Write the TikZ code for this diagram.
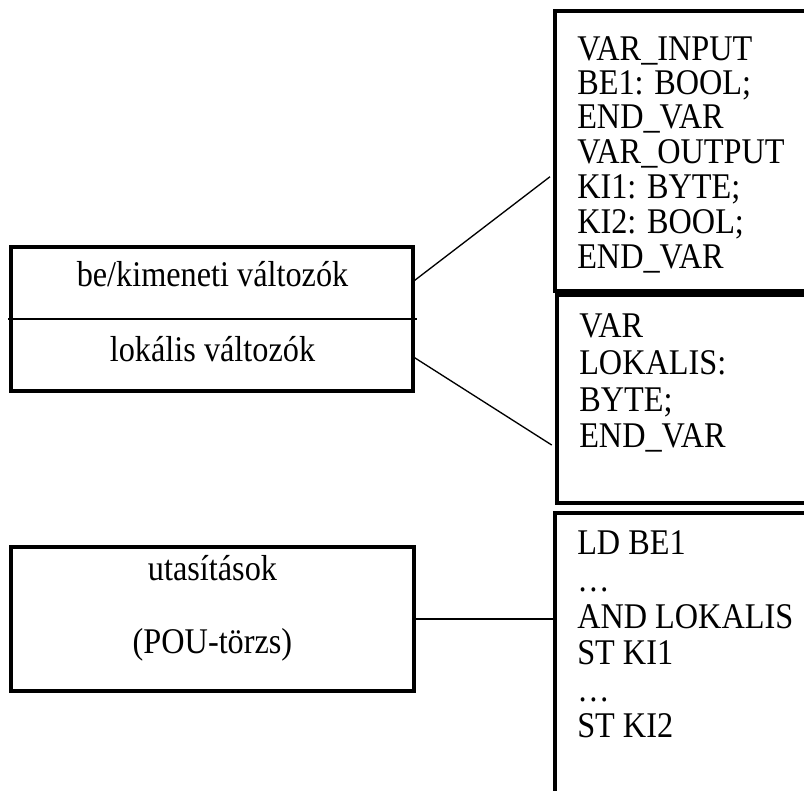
\documentclass[tikz,border=0pt]{standalone}
\usepackage{fontspec}
\setmainfont{Liberation Serif}
\usetikzlibrary{fit,calc}
\newcommand\ys[1]{\scalebox{1}[1.12]{#1}}
\tikzset{
  frame/.style={draw, line width=3pt, inner sep=0pt, outer sep=0pt},
  codeline/.style={anchor=base west, inner sep=0pt, font=\fontsize{24.2}{24}\selectfont},
  celltext/.style={anchor=base, inner sep=0pt, font=\fontsize{24.2}{24}\selectfont},
  link/.style={line width=1pt},
  divider/.style={line width=1pt}
}
\begin{document}
\begin{tikzpicture}[x=0.75pt, y=-0.75pt]
\useasboundingbox (0,0) rectangle (804,790);
\clip (0,0) rectangle (804,790);

% left boxes
\node[frame, fit={(11.3,247) (413,391.3)}] (vars) {};
\node[frame, fit={(11.3,547) (413.7,691.3)}] (pou) {};
\draw[divider] ($(vars.west)+(-3,0)$) -- ($(vars.east)+(3.5,0)$);

\node[celltext] (io)  at (212.5,286.7) {\ys{be/kimeneti változók}};
\node[celltext] (loc) at (212.5,361.7) {\ys{lokális változók}};
\node[celltext] (ut)  at (212.5,580)   {\ys{utasítások}};
\node[celltext] (pt)  at (212.5,653.5) {\ys{(POU-törzs)}};

% right boxes
\node[frame, fit={(555.3,11.3) (840,291.3)}] (decl) {};
\node[frame, fit={(557,295) (840,502.5)}] (locdecl) {};
\node[frame, fit={(555.3,513) (840,830)}] (code) {};

\node[codeline] (d1) at (577,60)    {\ys{VAR\_INPUT}};
\node[codeline] (d2) at (577,94.3)  {\ys{BE1: BOOL;}};
\node[codeline] (d3) at (577,128.3) {\ys{END\_VAR}};
\node[codeline] (d4) at (577,163.3) {\ys{VAR\_OUTPUT}};
\node[codeline] (d5) at (577,198.3) {\ys{KI1: BYTE;}};
\node[codeline] (d6) at (577,233.3) {\ys{KI2: BOOL;}};
\node[codeline] (d7) at (577,268.3) {\ys{END\_VAR}};

\node[codeline] (l1) at (579,337.3) {\ys{VAR}};
\node[codeline] (l2) at (579,374.3) {\ys{LOKALIS:}};
\node[codeline] (l3) at (579,411)   {\ys{BYTE;}};
\node[codeline] (l4) at (579,447.7) {\ys{END\_VAR}};

\node[codeline] (s1) at (577,554)   {\ys{LD BE1}};
\node[codeline] (s2) at (577,591)   {\ys{…}};
\node[codeline] (s3) at (577,628.3) {\ys{AND LOKALIS}};
\node[codeline] (s4) at (577,664)   {\ys{ST KI1}};
\node[codeline] (s5) at (577,701.7) {\ys{…}};
\node[codeline] (s6) at (577,737.3) {\ys{ST KI2}};

% connectors
\coordinate (c1) at (550,176.7);
\coordinate (c2) at (551.7,445);
\draw[link] ($(vars.north east)!0.24!(vars.south east)$) -- (c1);
\draw[link] ($(vars.north east)!0.76!(vars.south east)$) -- (c2);
\draw[link] (pou.east) -- (code.west |- pou.east);
\end{tikzpicture}
\end{document}
